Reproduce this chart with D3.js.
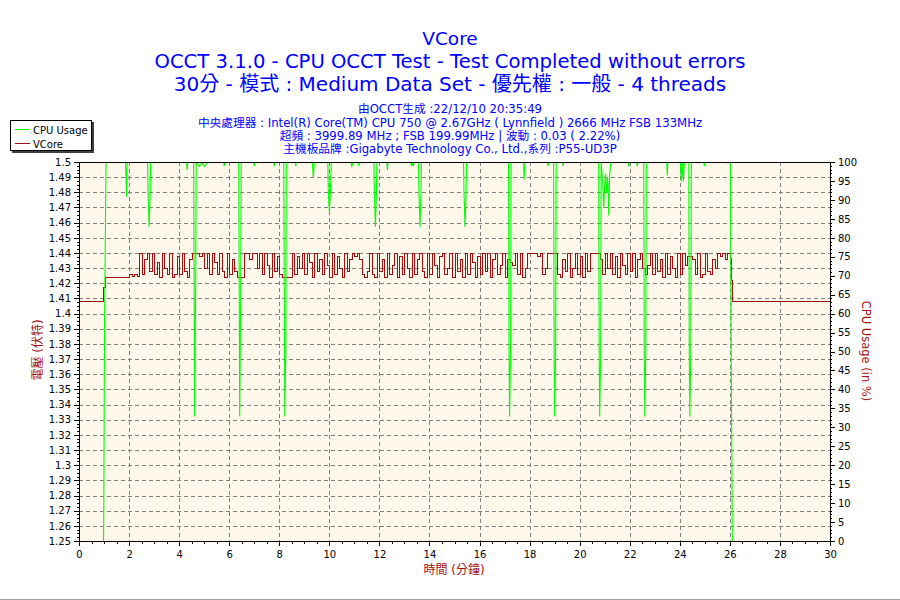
<!DOCTYPE html>
<meta charset="utf-8">
<style>
  body { margin: 0; background: #fff; }
  text { font-family: 'DejaVu Sans', 'Noto Sans CJK TC', sans-serif; }
</style>
<svg width="900" height="600"></svg>
<script src="https://d3js.org/d3.v7.min.js"></script>
<script>
// ---- data ----
const titleLines = [
  "VCore",
  "OCCT 3.1.0 - CPU OCCT Test - Test Completed without errors",
  "30分 - 模式 : Medium Data Set - 優先權 : 一般 - 4 threads"
]
const infoLines = [
  "由OCCT生成 :22/12/10 20:35:49",
  "中央處理器 : Intel(R) Core(TM) CPU 750 @ 2.67GHz ( Lynnfield ) 2666 MHz FSB 133MHz",
  "超頻 : 3999.89 MHz ; FSB 199.99MHz | 波動 : 0.03 ( 2.22%)",
  "主機板品牌 :Gigabyte Technology Co., Ltd.,系列 :P55-UD3P"
]
const seriesNames = ["CPU Usage", "VCore"]
const xTicks = d3.range(0, 31, 2)
const vTicks = d3.range(125, 151).map(d => d / 100)
const cTicks = d3.range(0, 101, 5)

// CPU usage (%), breakpoints [minute, value]
const cpuUsage = [
  [0, 0], [0.96, 0], [0.97, 7.5], [1.0, 57], [1.06, 100],
  [1.84, 100], [1.86, 95], [1.88, 91], [1.9, 100],
  [2.72, 100], [2.74, 92], [2.78, 83], [2.82, 92], [2.84, 100],
  [4.28, 100], [4.3, 98], [4.32, 100],
  [4.56, 100], [4.58, 66], [4.6, 33], [4.64, 66], [4.66, 100],
  [4.8, 99], [4.9, 100], [5.0, 99], [5.1, 100],
  [5.76, 100], [5.78, 99], [5.8, 100],
  [6.36, 100], [6.38, 66], [6.4, 33], [6.44, 66], [6.46, 100],
  [6.96, 100], [6.98, 99], [7.0, 100],
  [7.76, 100], [7.78, 99], [7.8, 100],
  [8.16, 100], [8.18, 66], [8.2, 33], [8.24, 50], [8.26, 100],
  [8.62, 100], [8.64, 99], [8.66, 100],
  [9.3, 100], [9.34, 96], [9.38, 100],
  [9.92, 100], [9.94, 92], [9.98, 87], [10.02, 92], [10.06, 100],
  [10.84, 100], [10.88, 99], [10.92, 100], [11.14, 100], [11.16, 99], [11.18, 100],
  [11.76, 100], [11.78, 92], [11.82, 83], [11.86, 92], [11.88, 100],
  [12.28, 100], [12.3, 98], [12.32, 100],
  [13.24, 100], [13.26, 99], [13.3, 100], [13.34, 99], [13.36, 100],
  [13.54, 100], [13.56, 92], [13.6, 83], [13.64, 92], [13.66, 100],
  [15.34, 100], [15.36, 92], [15.4, 83], [15.44, 92], [15.46, 100],
  [17.14, 100], [17.16, 50], [17.18, 33], [17.22, 50], [17.24, 100],
  [17.74, 100], [17.76, 95.5], [17.8, 100],
  [18.7, 100], [18.72, 99], [18.74, 100],
  [18.94, 100], [18.96, 50], [18.98, 33], [19.02, 50], [19.04, 100],
  [19.3, 100], [19.32, 99], [19.34, 100],
  [20.74, 100], [20.76, 50], [20.78, 33], [20.82, 50], [20.84, 100],
  [20.9, 95], [20.94, 88], [20.98, 94], [21.02, 97], [21.06, 92],
  [21.1, 96], [21.14, 86], [21.18, 97], [21.22, 100],
  [21.92, 100], [21.94, 99], [21.98, 100], [22.26, 100], [22.28, 99], [22.3, 100],
  [22.54, 100], [22.56, 50], [22.58, 33], [22.62, 50], [22.64, 100],
  [23.46, 100], [23.48, 96.6], [23.5, 100],
  [24.0, 100], [24.04, 95], [24.08, 100], [24.12, 95], [24.16, 100],
  [24.34, 100], [24.36, 50], [24.38, 33], [24.42, 50], [24.44, 100],
  [24.94, 100], [24.96, 99], [24.98, 100],
  [26.0, 100], [26.04, 41], [26.08, 0], [30, 0]
]

// VCore (V): idle start, then one reading every 0.1 min from 2.0 to 25.9, then idle end
const vcoreHead = [[0, 1.408], [0.97, 1.4175], [1.05, 1.424]]
const vcoreLoadStart = 2.0
const vcoreLoadStep = 0.1
const vcoreLoad = [
  1.426, 1.425, 1.426, 1.425, 1.44, 1.426, 1.436, 1.44, 1.428, 1.44,
  1.426, 1.434, 1.424, 1.44, 1.43, 1.426, 1.44, 1.424, 1.426, 1.438,
  1.426, 1.44, 1.428, 1.424, 1.436, 1.44, 1.44, 1.44, 1.438, 1.44,
  1.43, 1.44, 1.426, 1.44, 1.434, 1.426, 1.44, 1.428, 1.424, 1.44,
  1.426, 1.436, 1.428, 1.424, 1.424, 1.424, 1.44, 1.44, 1.436, 1.44,
  1.44, 1.43, 1.44, 1.426, 1.44, 1.432, 1.424, 1.44, 1.428, 1.438,
  1.426, 1.424, 1.424, 1.424, 1.424, 1.44, 1.426, 1.438, 1.43, 1.44,
  1.426, 1.44, 1.434, 1.424, 1.44, 1.428, 1.436, 1.426, 1.44, 1.432,
  1.424, 1.44, 1.426, 1.438, 1.43, 1.424, 1.44, 1.428, 1.436, 1.44,
  1.438, 1.44, 1.436, 1.426, 1.424, 1.428, 1.44, 1.426, 1.424, 1.44,
  1.428, 1.436, 1.424, 1.44, 1.426, 1.432, 1.44, 1.424, 1.438, 1.426,
  1.44, 1.43, 1.424, 1.44, 1.426, 1.436, 1.44, 1.428, 1.424, 1.44,
  1.426, 1.44, 1.432, 1.424, 1.438, 1.44, 1.426, 1.43, 1.44, 1.424,
  1.44, 1.428, 1.436, 1.424, 1.44, 1.426, 1.44, 1.434, 1.424, 1.438,
  1.426, 1.44, 1.428, 1.44, 1.424, 1.436, 1.44, 1.426, 1.432, 1.44,
  1.424, 1.436, 1.434, 1.432, 1.44, 1.426, 1.44, 1.424, 1.43, 1.44,
  1.44, 1.44, 1.44, 1.438, 1.44, 1.426, 1.43, 1.44, 1.44, 1.44,
  1.44, 1.426, 1.424, 1.436, 1.428, 1.44, 1.424, 1.43, 1.44, 1.426,
  1.438, 1.424, 1.44, 1.428, 1.44, 1.44, 1.44, 1.44, 1.436, 1.426,
  1.44, 1.43, 1.44, 1.426, 1.438, 1.424, 1.44, 1.432, 1.426, 1.44,
  1.428, 1.44, 1.424, 1.436, 1.44, 1.43, 1.426, 1.432, 1.44, 1.426,
  1.44, 1.428, 1.436, 1.424, 1.44, 1.426, 1.438, 1.43, 1.424, 1.44,
  1.426, 1.44, 1.432, 1.438, 1.438, 1.436, 1.426, 1.44, 1.424, 1.426,
  1.44, 1.428, 1.426, 1.436, 1.43, 1.44, 1.438, 1.44, 1.436, 1.44
]
const vcoreTail = [[26.0, 1.437], [26.04, 1.422], [26.08, 1.408], [30, 1.408]]

const vcore = vcoreHead
  .concat(vcoreLoad.map((v, i) => [vcoreLoadStart + i * vcoreLoadStep, v]))
  .concat(vcoreTail)

// ---- chart ----
const svg = d3.select('svg')
const plotL = 79, plotR = 830, plotT = 162, plotB = 541
const blue = '#0000ff'
const darkRed = '#a01010'
const green = '#00ff00'

const x = d3.scaleLinear().domain([0, 30]).range([plotL, plotR])
const yV = d3.scaleLinear().domain([1.25, 1.5]).range([plotB, plotT])
const yC = d3.scaleLinear().domain([0, 100]).range([plotB, plotT])

svg.append('rect').attr('width', 900).attr('height', 600).attr('fill', '#fff')
svg.append('line').attr('x1', 0).attr('x2', 900).attr('y1', 599.5).attr('y2', 599.5)
  .attr('stroke', '#a0a0a0')

// titles
const titleY = [45, 68, 91]
const titleSize = [18.5, 19.6, 20]
svg.append('g').selectAll('text').data(titleLines).enter().append('text')
  .attr('x', 450).attr('y', (d, i) => titleY[i])
  .attr('text-anchor', 'middle').attr('font-size', (d, i) => titleSize[i]).attr('fill', blue)
  .text(d => d)

svg.append('g').selectAll('text').data(infoLines).enter().append('text')
  .attr('x', 450).attr('y', (d, i) => 113.3 + i * 13.35)
  .attr('text-anchor', 'middle').attr('font-size', 11.7).attr('fill', blue)
  .text(d => d)

// plot background
svg.append('rect').attr('x', plotL).attr('y', plotT)
  .attr('width', plotR - plotL).attr('height', plotB - plotT).attr('fill', '#fdf8ea')

// grid
const grid = svg.append('g').attr('stroke', '#808080').attr('stroke-dasharray', '4,3')
  .attr('shape-rendering', 'crispEdges')
grid.selectAll('.h').data(vTicks.slice(1, -1)).enter().append('line')
  .attr('x1', plotL).attr('x2', plotR)
  .attr('y1', d => Math.round(yV(d)) + 0.5).attr('y2', d => Math.round(yV(d)) + 0.5)
grid.selectAll('.v').data(xTicks.slice(1, -1)).enter().append('line')
  .attr('y1', plotT).attr('y2', plotB)
  .attr('x1', d => Math.round(x(d)) + 0.5).attr('x2', d => Math.round(x(d)) + 0.5)

// series, clipped to the inside of the frame
svg.append('clipPath').attr('id', 'plot-clip').append('rect')
  .attr('x', plotL + 1).attr('y', plotT + 1)
  .attr('width', plotR - plotL - 1).attr('height', plotB - plotT - 1)

const vLine = d3.line().x(d => Math.round(x(d[0])) + 0.5).y(d => Math.round(yV(d[1])) + 0.5)
  .curve(d3.curveStepAfter)
const cLine = d3.line().x(d => x(d[0]) + 0.5).y(d => yC(d[1]) + 0.5)

const series = svg.append('g').attr('clip-path', 'url(#plot-clip)')
series.append('path').datum(vcore).attr('d', vLine)
  .attr('fill', 'none').attr('stroke', darkRed).attr('stroke-width', 1)
  .attr('shape-rendering', 'crispEdges')
series.append('path').datum(cpuUsage).attr('d', cLine)
  .attr('fill', 'none').attr('stroke', green).attr('stroke-width', 1.1)

// axes
function styleAxis(g) {
  g.select('.domain').remove()
  g.selectAll('text').attr('font-size', 10).attr('fill', '#000')
  g.selectAll('line').attr('stroke', '#000').attr('shape-rendering', 'crispEdges')
}
const noLabel = () => ''
const fmtV = d => String(+d.toFixed(2))

svg.append('g').attr('transform', `translate(${plotL},0)`)
  .call(d3.axisLeft(yV).tickValues(d3.range(12500, 15001, 25).map(d => d / 10000))
    .tickSize(2).tickFormat(noLabel))
  .call(styleAxis)
svg.append('g').attr('transform', `translate(${plotL},0)`)
  .call(d3.axisLeft(yV).tickValues(vTicks).tickSize(5).tickPadding(3).tickFormat(fmtV))
  .call(styleAxis)

svg.append('g').attr('transform', `translate(${plotR},0)`)
  .call(d3.axisRight(yC).tickValues(d3.range(0, 101, 1)).tickSize(2).tickFormat(noLabel))
  .call(styleAxis)
svg.append('g').attr('transform', `translate(${plotR},0)`)
  .call(d3.axisRight(yC).tickValues(cTicks).tickSize(5).tickPadding(3))
  .call(styleAxis)

svg.append('g').attr('transform', `translate(0,${plotB})`)
  .call(d3.axisBottom(x).tickValues(d3.range(0, 30.1, 0.5)).tickSize(3).tickFormat(noLabel))
  .call(styleAxis)
svg.append('g').attr('transform', `translate(0,${plotB})`)
  .call(d3.axisBottom(x).tickValues(xTicks).tickSize(5).tickPadding(5))
  .call(styleAxis)

// frame
svg.append('rect').attr('x', plotL + 0.5).attr('y', plotT + 0.5)
  .attr('width', plotR - plotL).attr('height', plotB - plotT)
  .attr('fill', 'none').attr('stroke', '#000').attr('shape-rendering', 'crispEdges')

// axis titles
svg.append('text').attr('transform', `translate(42,350) rotate(-90)`)
  .attr('text-anchor', 'middle').attr('font-size', 12).attr('fill', darkRed)
  .text('電壓 (伏特)')
svg.append('text').attr('transform', `translate(862,351) rotate(90)`)
  .attr('text-anchor', 'middle').attr('font-size', 11.5).attr('fill', darkRed)
  .text('CPU Usage (in %)')
svg.append('text').attr('x', 454).attr('y', 574)
  .attr('text-anchor', 'middle').attr('font-size', 12).attr('fill', darkRed)
  .text('時間 (分鐘)')

// legend
const lg = svg.append('g')
lg.append('rect').attr('x', 12).attr('y', 122).attr('width', 82).attr('height', 31).attr('fill', '#404040')
lg.append('rect').attr('x', 10.5).attr('y', 120.5).attr('width', 81).attr('height', 30)
  .attr('fill', '#fff').attr('stroke', '#000').attr('shape-rendering', 'crispEdges')
const legendColors = [green, darkRed]
seriesNames.forEach((name, i) => {
  const yy = 129.5 + i * 14
  lg.append('line').attr('x1', 15).attr('x2', 30).attr('y1', yy).attr('y2', yy)
    .attr('stroke', legendColors[i]).attr('shape-rendering', 'crispEdges')
  lg.append('text').attr('x', 33).attr('y', yy + 4).attr('font-size', 10).attr('fill', '#000')
    .text(name)
})
</script>
